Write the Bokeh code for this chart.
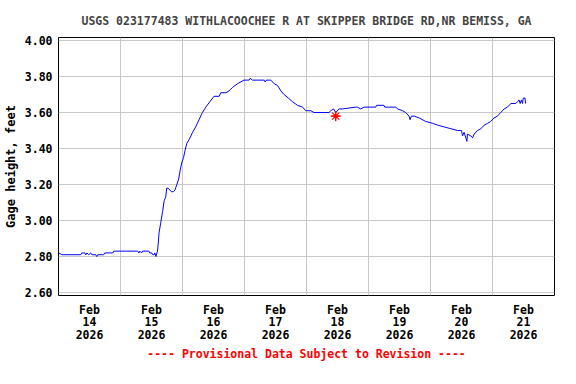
import pandas as pd
from bokeh.plotting import figure
from bokeh.models import (Range1d, FixedTicker, CustomJSTickFormatter, NumeralTickFormatter,
                          Legend, LegendItem, Title, ColumnDataSource)
from bokeh.embed import file_html
from bokeh.resources import INLINE

# ---------------- data ----------------
START = "2026-02-14 00:00"
N_DAYS = 8
# hours since Feb 14 2026 00:00 and gage height (feet)
hours = [0.1, 1.3, 8.6, 9.0, 10.2, 10.6, 11.0, 11.7, 12.5, 12.9, 14.4, 14.8, 15.2, 17.5, 17.9,
         21.0, 21.4, 30.7, 31.1, 31.5, 32.2, 32.6, 35.0, 35.3, 36.1, 36.5, 37.0, 37.3, 37.7,
         38.3, 38.6, 38.9, 39.6, 40.3, 40.9, 41.5, 41.9, 42.4, 43.1, 43.7, 44.5, 45.1, 45.8,
         46.5, 47.1, 47.7, 48.4, 49.0, 49.7, 50.6, 51.9, 53.1, 54.4, 55.7, 57.0, 58.6, 60.2,
         62.2, 62.8, 64.8, 66.0, 67.4, 69.3, 71.8, 73.8, 74.2, 75.1, 79.6, 80.0, 80.5, 82.2,
         83.5, 84.8, 86.1, 87.3, 89.0, 90.6, 92.5, 94.5, 95.7, 97.7, 98.9, 104.7, 105.4, 106.5,
         107.3, 108.6, 109.9, 115.1, 115.7, 117.0, 118.3, 122.8, 123.1, 126.0, 126.3, 130.6,
         131.2, 133.2, 134.4, 135.7, 136.1, 136.6, 137.7, 139.6, 142.2, 144.8, 146.7, 149.3,
         151.9, 154.5, 156.0, 156.4, 157.0, 158.1, 158.3, 159.6, 160.3, 160.9, 162.2, 163.5,
         164.8, 166.1, 167.3, 168.6, 169.9, 171.2, 172.5, 173.8, 175.1, 177.0, 177.7, 178.3,
         178.7, 179.2, 179.6, 179.9, 180.6, 180.8]
gage = [2.82, 2.81, 2.81, 2.82, 2.82, 2.81, 2.82, 2.81, 2.82, 2.81, 2.81, 2.80, 2.81, 2.81, 2.82,
        2.82, 2.83, 2.83, 2.82, 2.83, 2.82, 2.83, 2.83, 2.82, 2.82, 2.81, 2.81, 2.82, 2.80,
        2.83, 2.87, 2.93, 2.99, 3.05, 3.11, 3.13, 3.18, 3.18, 3.17, 3.16, 3.16, 3.17, 3.20,
        3.23, 3.28, 3.32, 3.35, 3.39, 3.43, 3.45, 3.49, 3.52, 3.56, 3.60, 3.63, 3.66, 3.69,
        3.69, 3.71, 3.71, 3.72, 3.74, 3.76, 3.78, 3.78, 3.79, 3.78, 3.78, 3.77, 3.78, 3.78,
        3.76, 3.75, 3.72, 3.70, 3.68, 3.66, 3.64, 3.63, 3.61, 3.61, 3.60, 3.60, 3.61, 3.62,
        3.60, 3.62, 3.62, 3.63, 3.63, 3.62, 3.63, 3.63, 3.64, 3.64, 3.63, 3.63,
        3.62, 3.61, 3.60, 3.58, 3.56, 3.58, 3.58, 3.57, 3.55, 3.54, 3.53, 3.52,
        3.51, 3.50, 3.50, 3.47, 3.49, 3.44, 3.48, 3.47, 3.46, 3.48, 3.50, 3.51,
        3.53, 3.54, 3.55, 3.57, 3.58, 3.60, 3.62, 3.63, 3.65, 3.65, 3.66, 3.67,
        3.65, 3.67, 3.65, 3.68, 3.68, 3.65]
meas_hours = [107.3]
meas_gage = [3.58]

tick_month = "Feb"
tick_days = ["14", "15", "16", "17", "18", "19", "20", "21"]
tick_year = "2026"
y_ticks = [2.60, 2.80, 3.00, 3.20, 3.40, 3.60, 3.80, 4.00]

TITLE = "USGS 023177483 WITHLACOOCHEE R AT SKIPPER BRIDGE RD,NR BEMISS, GA"
NOTE = "---- Provisional Data Subject to Revision ----"
Y_LABEL = "Gage height, feet"
SERIES_LABELS = ["Gage height", "Measured gage height"]

# ---------------- derived ----------------
t0 = pd.Timestamp(START)
times = t0 + pd.to_timedelta(hours, unit="h")
mtimes = t0 + pd.to_timedelta(meas_hours, unit="h")
day_ms = 86400000.0
t0_ms = t0.value / 1e6
noon_ticks = [t0_ms + (i + 0.5) * day_ms for i in range(len(tick_days))]
midnight_ticks = [t0_ms + i * day_ms for i in range(1, N_DAYS)]
tick_labels = [f"{tick_month}\n{d}\n{tick_year}" for d in tick_days]

FONT = "DejaVu Sans Mono"
FS = "11.5px"
BLUE = "#0000ff"
RED = "#ff0000"

src = ColumnDataSource(dict(t=times, v=gage))
msrc = ColumnDataSource(dict(t=mtimes, v=meas_gage))

p = figure(frame_width=496, frame_height=258, x_axis_type="datetime", output_backend="svg",
           toolbar_location=None, min_border_left=58, min_border_right=12,
           min_border_top=37, min_border_bottom=10,
           x_range=Range1d(t0, t0 + pd.Timedelta(days=N_DAYS)),
           y_range=Range1d(2.5835, 4.0168))
p.background_fill_color = "white"
p.border_fill_color = "white"
p.outline_line_color = "black"
p.outline_line_width = 1

# title
p.title.text = TITLE
p.title.align = "center"
p.title.text_font = FONT
p.title.text_font_size = FS
p.title.text_font_style = "bold"
p.title.standoff = 19

# axes
p.xaxis.ticker = FixedTicker(ticks=noon_ticks)
p.xaxis.formatter = CustomJSTickFormatter(args=dict(tvals=noon_ticks, tlabs=tick_labels), code="""
    for (let i = 0; i < tvals.length; i++) { if (Math.abs(tvals[i] - tick) < 1) return tlabs[i]; }
    return "";
""")
p.yaxis.ticker = FixedTicker(ticks=y_ticks)
p.yaxis.formatter = NumeralTickFormatter(format="0.00")
for ax in (p.xaxis[0], p.yaxis[0]):
    ax.axis_line_color = None
    ax.major_tick_line_color = None
    ax.minor_tick_line_color = None
    ax.major_tick_in = 0
    ax.major_tick_out = 0
    ax.minor_tick_in = 0
    ax.minor_tick_out = 0
    ax.major_label_text_font = FONT
    ax.major_label_text_font_size = FS
    ax.major_label_text_font_style = "bold"
    ax.major_label_text_color = "black"
p.xaxis.major_label_text_line_height = 0.9
p.xaxis.major_label_standoff = 7
p.xaxis.axis_label_standoff = 0
p.yaxis.major_label_standoff = 6
p.yaxis.axis_label = Y_LABEL
p.yaxis.axis_label_text_font = FONT
p.yaxis.axis_label_text_font_size = "12px"
p.yaxis.axis_label_text_font_style = "bold"
p.yaxis.axis_label_text_color = "black"
p.yaxis.axis_label_standoff = 4

# grids
p.xgrid.ticker = FixedTicker(ticks=midnight_ticks)
p.xgrid.grid_line_color = "#c8c8c8"
p.ygrid.grid_line_color = "#c8c8c8"
p.xgrid.grid_line_width = 1
p.ygrid.grid_line_width = 1

# data
line_r = p.line("t", "v", source=src, line_color=BLUE, line_width=1)
ast_r = p.scatter("t", "v", source=msrc, marker="asterisk", size=10, line_color=RED, line_width=1.2)
crs_r = p.scatter("t", "v", source=msrc, marker="cross", size=9, line_color=RED, line_width=1.2)

# provisional-data note below the axis
note = Title(text=NOTE, align="center", text_color=RED, text_font=FONT,
             text_font_size=FS, text_font_style="bold", standoff=0)
p.add_layout(note, "below")

legend = Legend(items=[LegendItem(label=SERIES_LABELS[0], renderers=[line_r]),
                       LegendItem(label=SERIES_LABELS[1], renderers=[ast_r, crs_r])],
                orientation="horizontal", location="top_center", spacing=71,
                glyph_width=18, glyph_height=12, label_standoff=6, label_height=12,
                label_text_font=FONT, label_text_font_size=FS, label_text_font_style="bold",
                label_text_color="black", padding=0, margin=0, border_line_color=None,
                background_fill_alpha=0)
p.add_layout(legend, "below")

open("out.html", "w").write(file_html(p, INLINE))
